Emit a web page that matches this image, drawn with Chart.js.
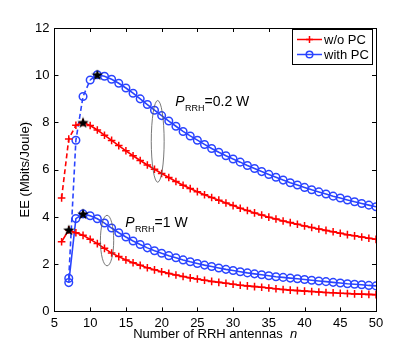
<!DOCTYPE html>
<html>
<head>
<meta charset="utf-8">
<script src="https://cdn.jsdelivr.net/npm/chart.js@4/dist/chart.umd.min.js"></script>
<style>
  html, body { margin: 0; padding: 0; background: #fff; }
  #c { display: block; }
</style>
</head>
<body>
<canvas id="c" width="415" height="348"></canvas>
<script>
// ---- data ----
const nValues = [6,7,8,9,10,11,12,13,14,15,16,17,18,19,20,21,22,23,24,25,26,27,28,29,30,31,32,33,34,35,36,37,38,39,40,41,42,43,44,45,46,47,48,49,50];

// P_RRH = 0.2 W, w/o PC
const woPC_02W = [4.8,7.3,7.88,8.0,7.87,7.68,7.46,7.24,7.02,6.8,6.59,6.39,6.2,6.02,5.84,5.67,5.5,5.34,5.2,5.07,4.94,4.82,4.71,4.59,4.48,4.37,4.27,4.17,4.08,3.99,3.91,3.83,3.76,3.69,3.62,3.55,3.49,3.43,3.37,3.31,3.25,3.2,3.15,3.1,3.05];
// P_RRH = 0.2 W, with PC
const withPC_02W = [null,1.4,7.25,9.1,9.8,10.02,9.96,9.83,9.66,9.46,9.24,9.0,8.76,8.52,8.29,8.06,7.84,7.62,7.43,7.25,7.07,6.9,6.74,6.59,6.45,6.32,6.18,6.05,5.92,5.8,5.68,5.56,5.45,5.35,5.25,5.15,5.06,4.97,4.88,4.8,4.72,4.64,4.57,4.5,4.43];
// P_RRH = 1 W, w/o PC
const woPC_1W = [2.95,3.45,3.33,3.22,3.05,2.87,2.67,2.47,2.32,2.18,2.06,1.95,1.85,1.76,1.68,1.61,1.54,1.48,1.42,1.37,1.32,1.27,1.23,1.19,1.15,1.11,1.08,1.05,1.02,0.99,0.96,0.93,0.9,0.88,0.86,0.84,0.82,0.8,0.79,0.77,0.76,0.74,0.73,0.72,0.71];
// P_RRH = 1 W, with PC
const withPC_1W = [null,1.22,3.93,4.13,4.05,3.92,3.74,3.53,3.33,3.15,2.98,2.83,2.69,2.57,2.46,2.36,2.27,2.18,2.1,2.03,1.96,1.9,1.84,1.78,1.73,1.68,1.63,1.59,1.55,1.51,1.47,1.44,1.41,1.38,1.35,1.32,1.29,1.26,1.23,1.2,1.17,1.15,1.13,1.1,1.08];

// optimum points (black stars)
const starN  = [9, 11, 7, 9];
const starEE = [8.0, 10.02, 3.45, 4.13];

// axis ticks
const xTicks = [5,10,15,20,25,30,35,40,45,50];
const yTicks = [0,2,4,6,8,10,12];

const legendLabels = ['w/o PC', 'with PC'];
const xTitle = 'Number of RRH antennas';
const yTitle = 'EE (Mbits/Joule)';

// ---- styles / annotation placement ----
const RED = '#ff0000';
const BLUE = '#2a44ff';
const FONT = '"Liberation Sans", Arial, Helvetica, sans-serif';

function toPoints(vals) {
  const pts = [];
  vals.forEach((v, i) => { if (v !== null) pts.push({ x: nValues[i], y: v }); });
  return pts;
}

// filled black star as point style
function makeStar(size) {
  const cv = document.createElement('canvas');
  cv.width = size; cv.height = size;
  const g = cv.getContext('2d');
  const cx = size / 2, cy = size / 2 + 0.5, R = size / 2, r = R * 0.42;
  g.beginPath();
  for (let k = 0; k < 10; k++) {
    const rad = k % 2 === 0 ? R : r;
    const a = -Math.PI / 2 + k * Math.PI / 5;
    const px = cx + rad * Math.cos(a), py = cy + rad * Math.sin(a);
    if (k === 0) g.moveTo(px, py); else g.lineTo(px, py);
  }
  g.closePath();
  g.fillStyle = '#000';
  g.fill();
  return cv;
}
const starImg = makeStar(12);

const dashUpTo = (limit) => ({
  borderDash: ctx => (ctx.p1.parsed.x <= limit ? [5, 3] : undefined)
});

const annotPlugin = {
  id: 'annot',
  afterDraw(chart) {
    const { ctx, chartArea: a, scales } = chart;
    const xs = scales.x, ys = scales.y;
    ctx.save();
    // box
    ctx.strokeStyle = '#000';
    ctx.lineWidth = 1;
    ctx.strokeRect(Math.round(a.left) + 0.5, Math.round(a.top) + 0.5,
                   Math.round(a.right - a.left), Math.round(a.bottom - a.top));
    // inward ticks on all sides
    const tl = 4;
    ctx.beginPath();
    xTicks.forEach(t => {
      const px = Math.round(xs.getPixelForValue(t)) + 0.5;
      ctx.moveTo(px, a.bottom); ctx.lineTo(px, a.bottom - tl);
      ctx.moveTo(px, a.top); ctx.lineTo(px, a.top + tl);
    });
    yTicks.forEach(t => {
      const py = Math.round(ys.getPixelForValue(t)) + 0.5;
      ctx.moveTo(a.left, py); ctx.lineTo(a.left + tl, py);
      ctx.moveTo(a.right, py); ctx.lineTo(a.right - tl, py);
    });
    ctx.stroke();

    // ellipses
    ctx.strokeStyle = '#555';
    ctx.lineWidth = 0.8;
    const ellipses = [
      { n: 19.45, v: 7.2, rn: 0.9, rv: 1.73 },
      { n: 12.36, v: 3.0, rn: 0.93, rv: 1.07 }
    ];
    ellipses.forEach(e => {
      const cx = xs.getPixelForValue(e.n), cy = ys.getPixelForValue(e.v);
      const rx = xs.getPixelForValue(e.n + e.rn) - cx;
      const ry = cy - ys.getPixelForValue(e.v + e.rv);
      ctx.beginPath();
      ctx.ellipse(cx, cy, rx, ry, 0, 0, Math.PI * 2);
      ctx.stroke();
    });

    // P_RRH labels
    ctx.fillStyle = '#000';
    ctx.textBaseline = 'alphabetic';
    ctx.textAlign = 'left';
    const labels = [
      { n: 21.9, v: 8.7, tail: '=0.2 W' },
      { n: 14.9, v: 3.58, tail: '=1 W' }
    ];
    labels.forEach(l => {
      let x = xs.getPixelForValue(l.n);
      const y = ys.getPixelForValue(l.v);
      ctx.font = 'italic 14px ' + FONT;
      ctx.fillText('P', x, y);
      x += ctx.measureText('P').width + 0.5;
      ctx.font = '9px ' + FONT;
      ctx.fillText('RRH', x, y + 5);
      x += ctx.measureText('RRH').width;
      ctx.font = '14px ' + FONT;
      ctx.fillText(l.tail, x, y);
    });

    // axis titles
    ctx.font = '13px ' + FONT;
    ctx.textBaseline = 'middle';
    const w1 = ctx.measureText(xTitle + '  ').width;
    ctx.font = 'italic 13px ' + FONT;
    const w2 = ctx.measureText('n').width;
    let sx = (a.left + a.right) / 2 - (w1 + w2) / 2;
    ctx.font = '13px ' + FONT;
    ctx.fillText(xTitle + '  ', sx, 334);
    ctx.font = 'italic 13px ' + FONT;
    ctx.fillText('n', sx + w1, 334);

    ctx.save();
    ctx.translate(25, (a.top + a.bottom) / 2);
    ctx.rotate(-Math.PI / 2);
    ctx.textAlign = 'center';
    ctx.font = '13px ' + FONT;
    ctx.fillText(yTitle, 0, 0);
    ctx.restore();

    // legend
    const bx = 292, by = 29, bw = 80, bh = 35;
    ctx.fillStyle = '#fff';
    ctx.fillRect(bx, by, bw, bh);
    ctx.strokeStyle = '#000';
    ctx.lineWidth = 1;
    ctx.strokeRect(bx + 0.5, by + 0.5, bw, bh);
    const rows = [
      { y: by + 10.5, color: RED, mark: 'cross' },
      { y: by + 25.5, color: BLUE, mark: 'circle' }
    ];
    rows.forEach((r, i) => {
      ctx.strokeStyle = r.color;
      ctx.lineWidth = 1.5;
      ctx.beginPath();
      ctx.moveTo(bx + 5, r.y); ctx.lineTo(bx + 30, r.y);
      ctx.stroke();
      const mx = bx + 17.5;
      ctx.beginPath();
      if (r.mark === 'cross') {
        ctx.moveTo(mx, r.y - 3.5); ctx.lineTo(mx, r.y + 3.5);
        ctx.moveTo(mx - 3.5, r.y); ctx.lineTo(mx + 3.5, r.y);
      } else {
        ctx.arc(mx, r.y, 3.3, 0, Math.PI * 2);
      }
      ctx.stroke();
      ctx.fillStyle = '#000';
      ctx.font = '13px ' + FONT;
      ctx.textBaseline = 'middle';
      ctx.textAlign = 'left';
      ctx.fillText(legendLabels[i], bx + 32, r.y + 0.5);
    });
    ctx.restore();
  }
};

const lineCommon = {
  borderWidth: 1.6,
  pointRadius: 3.8,
  pointBorderWidth: 1.5,
  pointBackgroundColor: 'rgba(0,0,0,0)',
  tension: 0,
  fill: false,
  showLine: true
};

new Chart(document.getElementById('c'), {
  type: 'line',
  data: {
    datasets: [
      {
        label: 'optimum',
        data: starN.map((n, i) => ({ x: n, y: starEE[i] })),
        showLine: false,
        pointStyle: starImg,
        pointRadius: 6,
        borderColor: '#000',
        backgroundColor: '#000'
      },
      Object.assign({}, lineCommon, {
        label: legendLabels[0] + ' 0.2W',
        data: toPoints(woPC_02W),
        borderColor: RED, pointBorderColor: RED, pointStyle: 'cross',
        segment: dashUpTo(8)
      }),
      Object.assign({}, lineCommon, {
        label: legendLabels[1] + ' 0.2W',
        data: toPoints(withPC_02W),
        borderColor: BLUE, pointBorderColor: BLUE, pointStyle: 'circle',
        segment: dashUpTo(10)
      }),
      Object.assign({}, lineCommon, {
        label: legendLabels[0] + ' 1W',
        data: toPoints(woPC_1W),
        borderColor: RED, pointBorderColor: RED, pointStyle: 'cross'
      }),
      Object.assign({}, lineCommon, {
        label: legendLabels[1] + ' 1W',
        data: toPoints(withPC_1W),
        borderColor: BLUE, pointBorderColor: BLUE, pointStyle: 'circle'
      })
    ]
  },
  options: {
    responsive: false,
    animation: false,
    devicePixelRatio: 1,
    layout: { padding: { left: 30, right: 39, top: 28, bottom: 13 } },
    plugins: { legend: { display: false }, tooltip: { enabled: false } },
    scales: {
      x: {
        type: 'linear', min: 5, max: 50,
        afterBuildTicks: s => { s.ticks = xTicks.map(v => ({ value: v })); },
        ticks: { color: '#000', font: { size: 13, family: FONT }, padding: 4, maxRotation: 0 },
        grid: { drawOnChartArea: false, drawTicks: false },
        border: { display: true, color: '#000', width: 1 }
      },
      y: {
        type: 'linear', min: 0, max: 12,
        afterBuildTicks: s => { s.ticks = yTicks.map(v => ({ value: v })); },
        ticks: { color: '#000', font: { size: 13, family: FONT }, padding: 5 },
        grid: { drawOnChartArea: false, drawTicks: false },
        border: { display: true, color: '#000', width: 1 }
      }
    }
  },
  plugins: [annotPlugin]
});
</script>
</body>
</html>
